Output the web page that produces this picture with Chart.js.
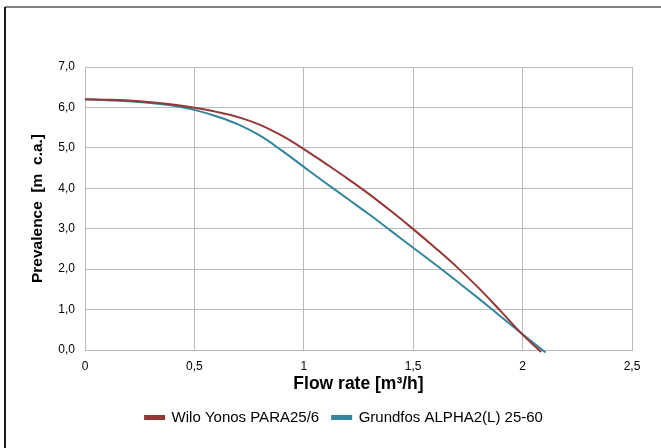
<!DOCTYPE html>
<html>
<head>
<meta charset="utf-8">
<script src="https://cdn.jsdelivr.net/npm/chart.js@4"></script>
<style>
html,body{margin:0;padding:0;background:#fff;}
#wrap{width:661px;height:448px;position:relative;}
</style>
</head>
<body>
<div id="wrap"><canvas id="c" width="661" height="448"></canvas></div>
<script>
const flowRates = [0, 0.1, 0.2, 0.3, 0.4, 0.5, 0.6, 0.7, 0.8, 0.9, 1.0, 1.1, 1.2, 1.3, 1.4, 1.5, 1.6, 1.7, 1.8, 1.9, 2.0];
const wiloHead = [6.20, 6.19, 6.17, 6.13, 6.07, 5.99, 5.89, 5.76, 5.57, 5.30, 4.97, 4.61, 4.24, 3.85, 3.43, 2.99, 2.53, 2.05, 1.53, 0.96, 0.38];
const wiloEnd = [2.085, -0.05];
const grundfosHead = [6.20, 6.18, 6.15, 6.11, 6.05, 5.94, 5.78, 5.58, 5.30, 4.93, 4.53, 4.13, 3.74, 3.35, 2.94, 2.53, 2.12, 1.70, 1.27, 0.83, 0.39];
const grundfosEnd = [2.105, -0.06];
const xTicks = [0, 0.5, 1, 1.5, 2, 2.5];
const yTicks = [0, 1, 2, 3, 4, 5, 6, 7];
const seriesNames = ['Wilo Yonos PARA25/6', 'Grundfos ALPHA2(L) 25-60'];

function toPoints(xs, ys, end) {
  const pts = xs.map((x, i) => ({x: x, y: ys[i]}));
  pts.push({x: end[0], y: end[1]});
  return pts;
}

const FONT = 'Liberation Sans, Arial, sans-serif';

const framePlugin = {
  id: 'frame',
  beforeDraw(chart) {
    const ctx = chart.ctx;
    ctx.save();
    ctx.fillStyle = '#ffffff';
    ctx.fillRect(0, 0, chart.width, chart.height);
    ctx.fillStyle = '#7f7f7f';
    ctx.fillRect(5, 6, chart.width - 5, 2);
    ctx.fillStyle = '#1a1a1a';
    ctx.fillRect(4, 7, 2, chart.height - 7);
    ctx.restore();
  }
};

const legendShift = {
  id: 'legendShift',
  afterLayout(chart) {
    const lg = chart.legend;
    if (lg) { lg.left += 28; lg.right += 28; }
  }
};

new Chart(document.getElementById('c'), {
  type: 'line',
  data: {
    datasets: [
      {
        label: seriesNames[0],
        data: toPoints(flowRates, wiloHead, wiloEnd),
        borderColor: '#953735',
        backgroundColor: '#953735',
        borderWidth: 2,
        pointRadius: 0,
        tension: 0.4,
        clip: {left: 0, top: 0, right: 0, bottom: 4}
      },
      {
        label: seriesNames[1],
        data: toPoints(flowRates, grundfosHead, grundfosEnd),
        borderColor: '#31859c',
        backgroundColor: '#31859c',
        borderWidth: 2,
        pointRadius: 0,
        tension: 0.4,
        clip: {left: 0, top: 0, right: 0, bottom: 4}
      }
    ]
  },
  options: {
    responsive: false,
    animation: false,
    layout: {padding: {top: 67, left: 0, right: 29, bottom: 13}},
    plugins: {
      legend: {
        position: 'bottom',
        labels: {
          boxWidth: 19,
          boxHeight: 3,
          padding: 13,
          color: '#000',
          font: {family: FONT, size: 15}
        }
      },
      tooltip: {enabled: false}
    },
    scales: {
      x: {
        type: 'linear',
        min: 0,
        max: 2.5,
        afterBuildTicks(scale) { scale.ticks = xTicks.map(v => ({value: v})); },
        afterFit(scale) { scale.height = 47; },
        grid: {color: '#bababa', lineWidth: 1, drawTicks: false},
        border: {color: '#bababa'},
        ticks: {
          padding: 9,
          color: '#000',
          font: {family: FONT, size: 12},
          maxRotation: 0,
          callback: v => String(v).replace('.', ',')
        },
        title: {
          display: true,
          text: 'Flow rate [m³/h]',
          color: '#000',
          font: {family: FONT, size: 17.5, weight: 'bold'},
          padding: {top: 2, bottom: 2.5}
        }
      },
      y: {
        min: 0,
        max: 7,
        afterBuildTicks(scale) { scale.ticks = yTicks.map(v => ({value: v})); },
        afterFit(scale) { scale.width = 85; },
        grid: {color: '#bababa', lineWidth: 1, drawTicks: false},
        border: {color: '#bababa'},
        ticks: {
          padding: 10,
          color: '#000',
          font: {family: FONT, size: 12},
          callback: v => v.toFixed(1).replace('.', ',')
        },
        title: {
          display: true,
          text: 'Prevalence  [m  c.a.]',
          color: '#000',
          font: {family: FONT, size: 15.5, weight: 'bold'},
          padding: {top: 28, bottom: 0}
        }
      }
    }
  },
  plugins: [framePlugin, legendShift]
});
</script>
</body>
</html>
